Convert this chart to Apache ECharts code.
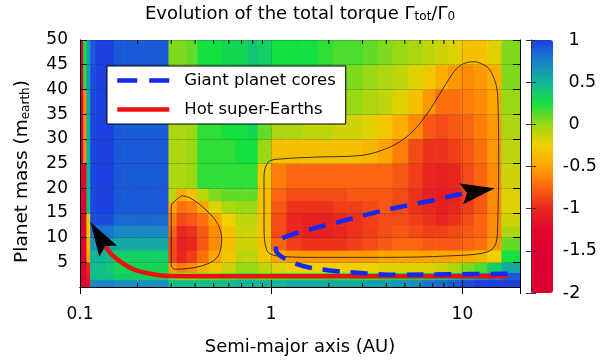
<!DOCTYPE html>
<html>
<head>
<meta charset="utf-8">
<script src="https://cdn.jsdelivr.net/npm/echarts@6/dist/echarts.min.js"></script>
<style>
    html, body { margin: 0; padding: 0; background: #fff; }
    #chart { width: 600px; height: 361px; }
</style>
</head>
<body>
<div id="chart"></div>
<script>
// cell edges of the torque map: semi-major axis (AU) and planet mass (m_earth)
var aEdges = [0.1, 0.104, 0.108, 0.113, 0.12, 0.135, 0.15, 0.17, 0.2, 0.235, 0.26, 0.29, 0.32, 0.36, 0.41, 0.47,
    0.55, 0.65, 0.75, 0.85, 1.0, 1.2, 1.45, 1.75, 2.1, 2.5, 3.0, 3.6, 4.3, 5.2, 6.2, 7.2, 8.4, 9.8, 11.5, 13.5, 16, 20];
var mEdges = [0, 1.5, 3, 5, 7.5, 10, 12.5, 15, 17.5, 20, 25, 30, 35, 40, 45, 50];

// Gamma_tot / Gamma_0, one row per mass band (bottom to top)
var torque = [
    [-1.6, -1.5, -1.2, 0.7, 0.75, 0.75, 0.7, 0.7, 0.7, 0.7, 0.7, 0.45, 0.45, 0.45, 0.45, 0.45, 0.45, 0.5, 0.5, 0.5, 0.5, 0.55, 0.55, 0.55, 0.55, 0.55, 0.6, 0.6, 0.65, 0.7, 0.8, 0.85, 0.9, 0.95, 1.0, 1.0, 1.0],
    [-1.6, -1.5, -1.1, 0.45, 0.45, 0.45, 0.35, 0.35, 0.35, 0.35, 0.35, 0.1, 0.05, 0.05, 0.1, 0.1, 0.15, 0.2, 0.2, 0.15, 0.15, 0.2, 0.2, 0.2, 0.2, 0.2, 0.2, 0.25, 0.25, 0.3, 0.35, 0.4, 0.5, 0.6, 0.7, 0.8, 0.9],
    [-1.6, -1.5, -1.0, 0.45, 0.45, 0.4, 0.3, 0.3, 0.3, 0.3, 0.3, -0.55, -0.65, -0.6, -0.45, -0.3, -0.15, 0.0, 0.0, -0.1, -0.2, -0.25, -0.25, -0.25, -0.25, -0.25, -0.25, -0.2, -0.2, -0.2, -0.2, -0.15, -0.05, 0.05, 0.15, 0.35, 0.55],
    [-1.6, -1.4, -0.5, 0.5, 0.5, 0.45, 0.35, 0.35, 0.35, 0.35, 0.35, -0.85, -1.0, -0.9, -0.7, -0.5, -0.3, -0.1, -0.1, -0.3, -0.5, -0.55, -0.55, -0.55, -0.55, -0.55, -0.55, -0.5, -0.5, -0.5, -0.5, -0.5, -0.5, -0.45, -0.4, -0.25, 0.25],
    [-1.6, -1.4, -0.4, 0.65, 0.65, 0.6, 0.55, 0.55, 0.55, 0.55, 0.55, -0.85, -1.05, -1.0, -0.8, -0.6, -0.35, -0.15, -0.15, -0.35, -0.75, -0.9, -0.95, -0.95, -0.95, -0.9, -0.85, -0.8, -0.75, -0.75, -0.8, -0.8, -0.8, -0.75, -0.7, -0.55, 0.1],
    [-1.6, -1.4, -0.3, 0.8, 0.8, 0.8, 0.72, 0.72, 0.72, 0.72, 0.72, -0.75, -1.0, -0.95, -0.8, -0.6, -0.35, -0.15, -0.15, -0.35, -0.85, -1.0, -1.05, -1.05, -1.0, -0.95, -0.9, -0.85, -0.8, -0.85, -0.9, -0.9, -0.85, -0.8, -0.75, -0.6, -0.05],
    [-1.6, -1.4, -0.2, 0.95, 0.95, 0.95, 0.85, 0.85, 0.85, 0.85, 0.85, -0.65, -0.85, -0.8, -0.7, -0.5, -0.25, -0.1, -0.1, -0.35, -0.85, -1.0, -1.05, -1.05, -1.0, -0.95, -0.9, -0.85, -0.85, -0.9, -0.95, -1.0, -0.95, -0.85, -0.75, -0.6, -0.15],
    [-1.6, -1.4, 0.4, 0.97, 1.0, 1.0, 0.9, 0.9, 0.9, 0.9, 0.9, -0.5, -0.7, -0.65, -0.5, -0.2, -0.05, 0.0, 0.0, -0.35, -0.8, -0.95, -0.95, -0.95, -0.9, -0.9, -0.85, -0.8, -0.85, -0.95, -1.0, -1.05, -1.0, -0.9, -0.8, -0.6, -0.2],
    [-1.6, -1.4, 0.45, 0.97, 1.0, 1.0, 0.9, 0.9, 0.9, 0.9, 0.9, -0.1, -0.45, -0.35, -0.1, 0.05, 0.1, 0.1, 0.1, -0.35, -0.75, -0.85, -0.85, -0.85, -0.85, -0.8, -0.8, -0.8, -0.85, -0.95, -1.05, -1.1, -1.05, -0.9, -0.8, -0.6, -0.2],
    [-1.6, -1.3, 0.5, 0.97, 1.0, 1.0, 0.9, 0.9, 0.9, 0.9, 0.9, -0.05, -0.05, 0.0, 0.2, 0.2, 0.2, 0.2, 0.2, -0.3, -0.65, -0.75, -0.75, -0.75, -0.75, -0.75, -0.75, -0.75, -0.8, -0.9, -1.0, -1.05, -1.0, -0.85, -0.75, -0.6, -0.15],
    [-1.6, -0.6, 0.5, 0.97, 1.0, 1.0, 0.9, 0.9, 0.9, 0.9, 0.9, -0.05, -0.05, 0.0, 0.2, 0.2, 0.2, 0.25, 0.25, 0.0, -0.35, -0.35, -0.35, -0.35, -0.35, -0.35, -0.4, -0.5, -0.65, -0.85, -0.95, -0.95, -0.9, -0.8, -0.7, -0.55, -0.1],
    [-1.6, -0.6, 0.5, 0.97, 1.0, 1.0, 0.9, 0.9, 0.9, 0.9, 0.9, -0.05, -0.05, 0.0, 0.2, 0.2, 0.25, 0.25, 0.3, 0.1, -0.05, -0.05, -0.1, -0.1, -0.15, -0.15, -0.2, -0.3, -0.45, -0.6, -0.8, -0.85, -0.8, -0.75, -0.65, -0.55, -0.05],
    [-1.6, -0.6, 0.55, 0.97, 1.0, 1.0, 0.9, 0.9, 0.9, 0.9, 0.9, -0.05, -0.05, 0.05, 0.25, 0.25, 0.25, 0.3, 0.35, 0.2, 0.1, 0.1, 0.05, 0.05, 0.0, 0.0, -0.05, -0.1, -0.2, -0.35, -0.55, -0.7, -0.7, -0.65, -0.6, -0.5, 0.0],
    [-1.6, 0.2, 0.6, 0.95, 1.0, 1.0, 0.9, 0.9, 0.9, 0.9, 0.9, 0.0, 0.0, 0.05, 0.25, 0.25, 0.25, 0.3, 0.4, 0.3, 0.15, 0.15, 0.15, 0.15, 0.1, 0.05, 0.0, -0.05, -0.1, -0.2, -0.3, -0.45, -0.55, -0.6, -0.55, -0.45, 0.05],
    [-1.5, 0.25, 0.6, 0.9, 1.0, 1.0, 0.9, 0.9, 0.9, 0.9, 0.9, 0.05, 0.05, 0.1, 0.25, 0.25, 0.3, 0.3, 0.4, 0.35, 0.25, 0.25, 0.25, 0.2, 0.15, 0.15, 0.1, 0.05, 0.0, -0.05, -0.1, -0.15, -0.2, -0.35, -0.35, -0.2, 0.05]
];

// -0.5 contours
var smallContour = [[0.341, 18.5], [0.377, 18.0], [0.441, 16.1], [0.519, 13.1], [0.551, 9.8], [0.519, 5.9], [0.425, 4.2],
    [0.315, 3.6], [0.300, 4.5], [0.300, 10.5], [0.300, 16.4], [0.307, 17.1], [0.341, 18.5]];
var bigContour = [[11.79, 45.6], [13.83, 44.1], [15.28, 38.8], [15.47, 25.7], [15.28, 12.45], [14.99, 8.9], [13.5, 7.1],
    [8.55, 6.3], [3.83, 6.0], [1.726, 6.0], [1.068, 6.3], [0.947, 7.5], [0.917, 12.45], [0.917, 22.3], [0.965, 25.3],
    [1.111, 25.9], [1.726, 26.3], [2.903, 26.6], [4.163, 28.3], [5.29, 30.9], [6.47, 34.8], [7.90, 40.1], [9.27, 44.1],
    [10.45, 45.4], [11.79, 45.6]];

// migration tracks
var hotSuperEarths = [[17.2, 2.2], [5, 2.2], [1, 2.2], [0.4, 2.2], [0.297, 2.23], [0.233, 2.7], [0.191, 3.56],
    [0.166, 4.88], [0.147, 6.5], [0.136, 8.16]];
var giantCores = [[17.2, 2.67], [8.55, 2.57], [4.69, 2.47], [3.08, 2.77], [2.02, 3.36], [1.50, 4.15], [1.18, 5.73],
    [1.059, 7.5], [1.084, 9.29], [1.252, 10.47], [1.592, 11.66], [2.283, 13.24], [3.27, 14.8], [4.69, 16.2],
    [7.14, 17.6], [9.65, 18.77], [11.97, 19.37]];
// arrow heads: [from a, from m, tip a, tip m]
var arrows = [
    [0.136, 8.16, 0.1134, 13.1],
    [9.65, 18.77, 14.77, 20.0]
];

var xLabels = [0.1, 1, 10];
var minorTicks = [0.2, 0.3, 0.4, 0.5, 0.6, 0.7, 0.8, 0.9, 2, 3, 4, 5, 6, 7, 8, 9];
var cbTicks = [1, 0.5, 0, -0.5, -1, -1.5, -2];

var palette = ['#dc0030', '#dd0030', '#de002e', '#e0082a', '#e8261e', '#fb6410', '#ffa500', '#f0d000',
    '#9ad814', '#14e040', '#10b49a', '#1a82c8', '#1a40e0'];

var FONT = 'DejaVu Sans';

var cells = [];
for (var i = 0; i < torque.length; i++) {
    for (var j = 0; j < torque[i].length; j++) {
        cells.push([aEdges[j], aEdges[j + 1], mEdges[i], mEdges[i + 1], torque[i][j]]);
    }
}

function renderCell(params, api) {
    var p0 = api.coord([api.value(0), api.value(2)]);
    var p1 = api.coord([api.value(1), api.value(3)]);
    return {
        type: 'rect',
        shape: { x: p0[0], y: p1[1], width: p1[0] - p0[0] + 0.6, height: p0[1] - p1[1] + 0.6 },
        style: { fill: api.visual('color') }
    };
}

function renderMinorTick(params, api) {
    var bottom = api.coord([api.value(0), 0]);
    var top = api.coord([api.value(0), 50]);
    return {
        type: 'group',
        children: [
            { type: 'line', shape: { x1: bottom[0], y1: bottom[1], x2: bottom[0], y2: bottom[1] - 4 }, style: { stroke: '#000', lineWidth: 1 } },
            { type: 'line', shape: { x1: top[0], y1: top[1], x2: top[0], y2: top[1] + 4 }, style: { stroke: '#000', lineWidth: 1 } }
        ]
    };
}

// filled, slightly notched arrow head pointing from (a0, m0) to the tip
function renderArrow(params, api) {
    var from = api.coord([api.value(0), api.value(1)]);
    var tip = api.coord([api.value(2), api.value(3)]);
    var dx = tip[0] - from[0], dy = tip[1] - from[1];
    var len = Math.sqrt(dx * dx + dy * dy);
    var ux = dx / len, uy = dy / len;
    var nx = -uy, ny = ux;
    var L = 34, W = 10.5, notch = 6;
    var bx = tip[0] - ux * L, by = tip[1] - uy * L;
    return {
        type: 'polygon',
        shape: {
            points: [
                tip,
                [bx + nx * W, by + ny * W],
                [bx + ux * notch, by + uy * notch],
                [bx - nx * W, by - ny * W]
            ]
        },
        style: { fill: '#000' }
    };
}

function isDecade(v) {
    for (var k = 0; k < xLabels.length; k++) {
        if (Math.abs(v - xLabels[k]) < 1e-9 * xLabels[k] + 1e-12) return true;
    }
    return false;
}

var chart = echarts.init(document.getElementById('chart'));
var black = { color: '#000', width: 1 };
var subStyle = { fontSize: 12, fontFamily: FONT, color: '#000', verticalAlign: 'bottom', lineHeight: 12, padding: [8, 0, 0, 0] };

var option = {
    animation: false,
    textStyle: { fontFamily: FONT },
    title: {
        text: 'Evolution of the total torque Γ{sub|tot}/Γ{sub|0}',
        left: 'center',
        top: 0,
        textStyle: {
            fontSize: 18, fontWeight: 'normal', color: '#000', fontFamily: FONT,
            rich: { sub: subStyle }
        }
    },
    grid: [
        { left: 80, top: 40, right: 80, bottom: 68 },
        { left: 531, top: 40, width: 22, height: 253 }
    ],
    xAxis: [{
        type: 'log', logBase: 10, min: 0.1, max: 20, gridIndex: 0, position: 'bottom', z: 1,
        axisLine: { lineStyle: black },
        axisTick: { inside: true, length: 7, lineStyle: black },
        axisLabel: {
            fontSize: 17, color: '#000', margin: 19, fontFamily: FONT,
            formatter: function (v) { return isDecade(v) ? String(v) : ''; }
        },
        splitLine: { show: true, lineStyle: { type: 'dotted', color: '#222', width: 0.8, opacity: 0.5 } },
        name: 'Semi-major axis (AU)', nameLocation: 'middle', nameGap: 51,
        nameTextStyle: { fontSize: 18, color: '#000', fontFamily: FONT }
    }, {
        type: 'log', logBase: 10, min: 0.1, max: 20, gridIndex: 0, position: 'top', z: 1,
        axisLine: { lineStyle: black },
        axisTick: { inside: true, length: 7, lineStyle: black },
        axisLabel: { show: false },
        splitLine: { show: false }
    }, {
        type: 'value', gridIndex: 1, show: false, min: 0, max: 1
    }],
    yAxis: [{
        type: 'value', min: 0, max: 50, interval: 5, gridIndex: 0, position: 'left', z: 1,
        axisLine: { lineStyle: black },
        axisTick: { inside: true, length: 7, lineStyle: black },
        axisLabel: {
            fontSize: 17, color: '#000', margin: 12, fontFamily: FONT,
            formatter: function (v) { return v === 0 ? '' : String(v); }
        },
        splitLine: { show: true, lineStyle: { type: 'dotted', color: '#222', width: 0.8, opacity: 0.5 } },
        name: 'Planet mass (m{sub|earth})', nameLocation: 'middle', nameGap: 48, nameRotate: 90,
        nameTextStyle: { fontSize: 18.5, color: '#000', fontFamily: FONT, padding: [0, 16, 0, 0], rich: { sub: subStyle } }
    }, {
        type: 'value', min: 0, max: 50, interval: 5, gridIndex: 0, position: 'right', z: 1,
        axisLine: { lineStyle: black },
        axisTick: { inside: true, length: 7, lineStyle: black },
        axisLabel: { show: false },
        splitLine: { show: false }
    }, {
        type: 'value', min: -2, max: 1, interval: 0.5, gridIndex: 1, position: 'right', z: 10,
        axisLine: { show: true, lineStyle: { color: '#333', width: 0.6 } },
        axisTick: { inside: true, length: 5, lineStyle: { color: '#333', width: 1 } },
        axisLabel: {
            fontSize: 17.5, color: '#000', margin: 10, fontFamily: FONT,
            formatter: function (v) { return cbTicks.indexOf(v) < 0 ? '' : (v >= 0 ? ' ' : '') + v; }
        },
        splitLine: { show: false }
    }, {
        type: 'value', min: -2, max: 1, interval: 0.5, gridIndex: 1, position: 'left', z: 10,
        axisLine: { show: true, lineStyle: { color: '#333', width: 0.6 } },
        axisTick: { inside: true, length: 5, lineStyle: { color: '#333', width: 1 } },
        axisLabel: { show: false },
        splitLine: { show: false }
    }],
    visualMap: {
        type: 'continuous', min: -2, max: 1, dimension: 4, seriesIndex: 0,
        left: 531, top: 40, itemWidth: 22, itemHeight: 253, padding: 0,
        calculable: false, hoverLink: false, text: null,
        inRange: { color: palette }
    },
    legend: {
        data: [
            { name: 'Giant planet cores', lineStyle: { type: [20, 12], width: 4.5, cap: 'butt' } },
            { name: 'Hot super-Earths', lineStyle: { width: 4.5, cap: 'butt' } }
        ],
        orient: 'vertical', left: 107, top: 66,
        padding: [6, 10, 6, 8], itemGap: 12, itemWidth: 52, itemHeight: 18,
        itemStyle: { opacity: 0 },
        backgroundColor: '#fff', borderColor: '#000', borderWidth: 1, borderRadius: 0,
        textStyle: { fontSize: 16.5, color: '#000', fontFamily: FONT, padding: [0, 0, 0, 10] },
        selectedMode: false
    },
    series: [{
        type: 'custom', renderItem: renderCell, data: cells, z: 0, clip: true, silent: true,
        encode: { x: [0, 1], y: [2, 3] }
    }, {
        type: 'line', data: smallContour, smooth: 0.35, symbol: 'none', z: 2, silent: true,
        lineStyle: { color: '#111', width: 0.8 }
    }, {
        type: 'line', data: bigContour, smooth: 0.35, symbol: 'none', z: 2, silent: true,
        lineStyle: { color: '#111', width: 0.8 }
    }, {
        name: 'Hot super-Earths', type: 'line', data: hotSuperEarths, smooth: 0.3, symbol: 'none', z: 3,
        lineStyle: { color: '#ee1111', width: 4.5, cap: 'butt' }, itemStyle: { color: '#ee1111' }
    }, {
        name: 'Giant planet cores', type: 'line', data: giantCores, smooth: 0.35, symbol: 'none', z: 4,
        lineStyle: { color: '#1428ee', width: 4.5, type: [17, 11], cap: 'butt' }, itemStyle: { color: '#1428ee' }
    }, {
        type: 'custom', renderItem: renderArrow, data: arrows, z: 5, silent: true,
        encode: { x: [0, 2], y: [1, 3] }
    }, {
        type: 'custom', renderItem: renderMinorTick, data: minorTicks.map(function (v) { return [v]; }),
        z: 5, silent: true, encode: { x: 0 }
    }]
};

chart.setOption(option);
</script>
</body>
</html>
